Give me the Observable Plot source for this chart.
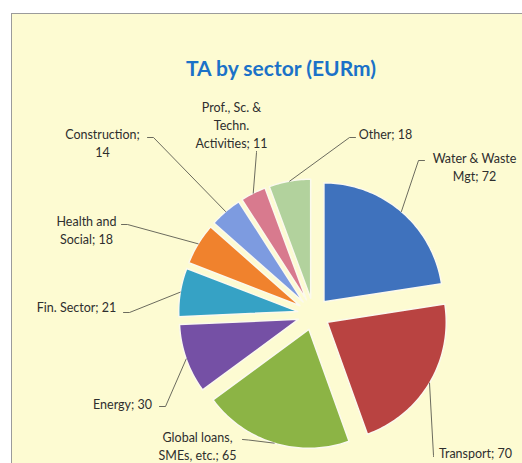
<!DOCTYPE html>
<html><head><meta charset="utf-8">
<script src="https://cdn.jsdelivr.net/npm/d3@7"></script>
<script src="https://cdn.jsdelivr.net/npm/@observablehq/plot@0.6"></script>
<style>
html,body{margin:0;padding:0;width:522px;height:463px;overflow:hidden;background:#fff;}
#panel{position:absolute;left:11px;top:13px;width:560px;height:500px;background:#fdfbd2;border-top:1.5px solid #9b9b9b;border-left:1.5px solid #9b9b9b;}
#title{position:absolute;left:11px;width:540px;top:56px;line-height:24px;text-align:center;font-family:Lato,sans-serif;font-weight:bold;font-size:21px;color:#1b72c8;}
#chart{position:absolute;left:0;top:0;}
</style></head><body>
<div id="panel"></div>
<div id="title">TA by sector (EURm)</div>
<div id="chart"></div>
<script>
// ---- data ----
const sectors = ["Water & Waste Mgt", "Transport", "Global loans, SMEs, etc.", "Energy", "Fin. Sector", "Health and Social", "Construction", "Prof., Sc. & Techn. Activities", "Other"];
const values = [72, 70, 65, 30, 21, 18, 14, 11, 18];
const labelNames = ["Water & Waste\nMgt", "Transport", "Global loans,\nSMEs, etc.", "Energy", "Fin. Sector", "Health and\nSocial", "Construction", "Prof., Sc. &\nTechn.\nActivities", "Other"];
const labelSeps = ["; ", "; ", "; ", "; ", "; ", "; ", ";\n", "; ", "; "];
const colors = ["#3f72bd", "#b94341", "#8cb445", "#7550a5", "#36a2c5", "#f0822d", "#7d9be0", "#d87a8e", "#b2d29d"];

// ---- layout (label placement, as in the original) ----
const labelAt = [[474,166],[475,452],[197,444.5],[122,403],[76,306],[86,229],[102,141.5],[231,123.5],[385,133]];
const leaderFrom = [[[424,160],[418,160]], [[433,456],[433,455]], [[242,439],[248,439.5]], [[159,406],[165,406]], [[123,312],[129,312]], [[121,224],[127,224]], [[147,137],[153,137]], [[256,151],[256,152]], [[355,137],[349,137]]];
const cx = 313, cy = 313.5, R = 119, EXPLODE = 16;

const arcs = d3.pie().sort(null)(values);
const slicePts = [], leaderPts = [], labels = [];
arcs.forEach((a, i) => {
  const mid = (a.startAngle + a.endAngle) / 2;
  const vx = cx + EXPLODE * Math.sin(mid), vy = cy - EXPLODE * Math.cos(mid);
  slicePts.push({name: sectors[i], x: vx, y: vy});
  const n = Math.max(8, Math.ceil((a.endAngle - a.startAngle) / 0.02));
  for (let k = 0; k <= n; k++) {
    const t = a.startAngle + (a.endAngle - a.startAngle) * k / n;
    slicePts.push({name: sectors[i], x: vx + R * Math.sin(t), y: vy - R * Math.cos(t)});
  }
  const [p1, p2] = leaderFrom[i];
  leaderPts.push({name: sectors[i], x: p1[0], y: p1[1]});
  leaderPts.push({name: sectors[i], x: p2[0], y: p2[1]});
  leaderPts.push({name: sectors[i], x: vx + R * Math.sin(mid), y: vy - R * Math.cos(mid)});
  labels.push({x: labelAt[i][0], y: labelAt[i][1], text: labelNames[i] + labelSeps[i] + values[i]});
});

const chart = Plot.plot({
  width: 522, height: 463, margin: 0,
  style: {background: "transparent", overflow: "visible"},
  x: {domain: [0, 522], range: [0, 522], axis: null},
  y: {domain: [0, 463], range: [0, 463], axis: null},
  color: {domain: sectors, range: colors},
  marks: [
    Plot.line(slicePts, {x: "x", y: "y", z: "name", fill: "name", stroke: "#fbf9ee", strokeWidth: 1.5, curve: "linear-closed"}),
    Plot.line(leaderPts, {x: "x", y: "y", z: "name", stroke: "#5a5a50", strokeWidth: 0.9}),
    Plot.text(labels, {x: "x", y: "y", text: "text", fontSize: 12.5, fontFamily: "Lato", fill: "#2e2e2e", lineHeight: 1.46})
  ]
});
document.getElementById("chart").appendChild(chart);
</script>
</body></html>
